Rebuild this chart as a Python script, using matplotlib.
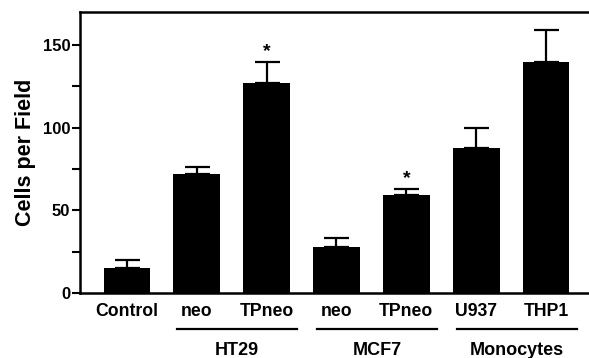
import matplotlib.pyplot as plt
import matplotlib.transforms as mtransforms
import numpy as np

plt.rcParams['font.family'] = ['Liberation Sans', 'DejaVu Sans']
plt.rcParams['font.weight'] = 'bold'

# bar data
labels = ["Control", "neo", "TPneo", "neo", "TPneo", "U937", "THP1"]
means = [15, 72, 127, 28, 59, 88, 140]
errors = [5, 4, 13, 5, 4, 12, 19]
starred = [2, 4]

# groups under the bars: (name, first bar, last bar)
group_names = ["HT29", "MCF7", "Monocytes"]
group_first = [1, 3, 5]
group_last = [2, 4, 6]

fig = plt.figure(figsize=(5.89, 3.58), dpi=100)
ax = fig.add_axes([0.136, 0.1816, 0.874, 0.785])

x = np.arange(len(labels))
ax.bar(x, means, width=0.67, color="black", zorder=2)
ax.errorbar(x, means, yerr=[np.zeros(len(errors)), errors], fmt="none",
            ecolor="black", elinewidth=1.6, capsize=9, capthick=1.6, zorder=1)

for i in starred:
    ax.annotate("*", (x[i], means[i] + errors[i]), xytext=(0, 1),
                textcoords="offset points", ha="center", va="bottom",
                fontsize=14, fontweight="bold")

ax.set_xlim(-0.67, 6.7)
ax.set_ylim(0, 170)
ax.set_yticks([0, 50, 100, 150])
ax.set_yticks([25, 75, 125], minor=True)
ax.tick_params(axis="y", which="major", length=6, width=1.5, labelsize=12, pad=1)
ax.tick_params(axis="y", which="minor", length=6, width=1.5)
ax.set_xticks(x)
ax.set_xticklabels(labels, fontsize=12.7, fontweight="bold")
ax.tick_params(axis="x", length=0, pad=7)
ax.set_ylabel("Cells per Field", fontsize=15.5, fontweight="bold", labelpad=5)

for side in ["left", "top", "bottom", "right"]:
    ax.spines[side].set_linewidth(1.8)

trans = mtransforms.blended_transform_factory(ax.transData, ax.transAxes)
for name, a, b in zip(group_names, group_first, group_last):
    x0, x1 = x[a] - 0.28, x[b] + 0.44
    ax.plot([x0, x1], [-0.128, -0.128], color="black",
            lw=1.6, transform=trans, clip_on=False)
    ax.text((x0 + x1) / 2, -0.203, name, transform=trans,
            ha="center", va="center", fontsize=13, fontweight="bold")

fig.savefig("out.png", dpi=100)
